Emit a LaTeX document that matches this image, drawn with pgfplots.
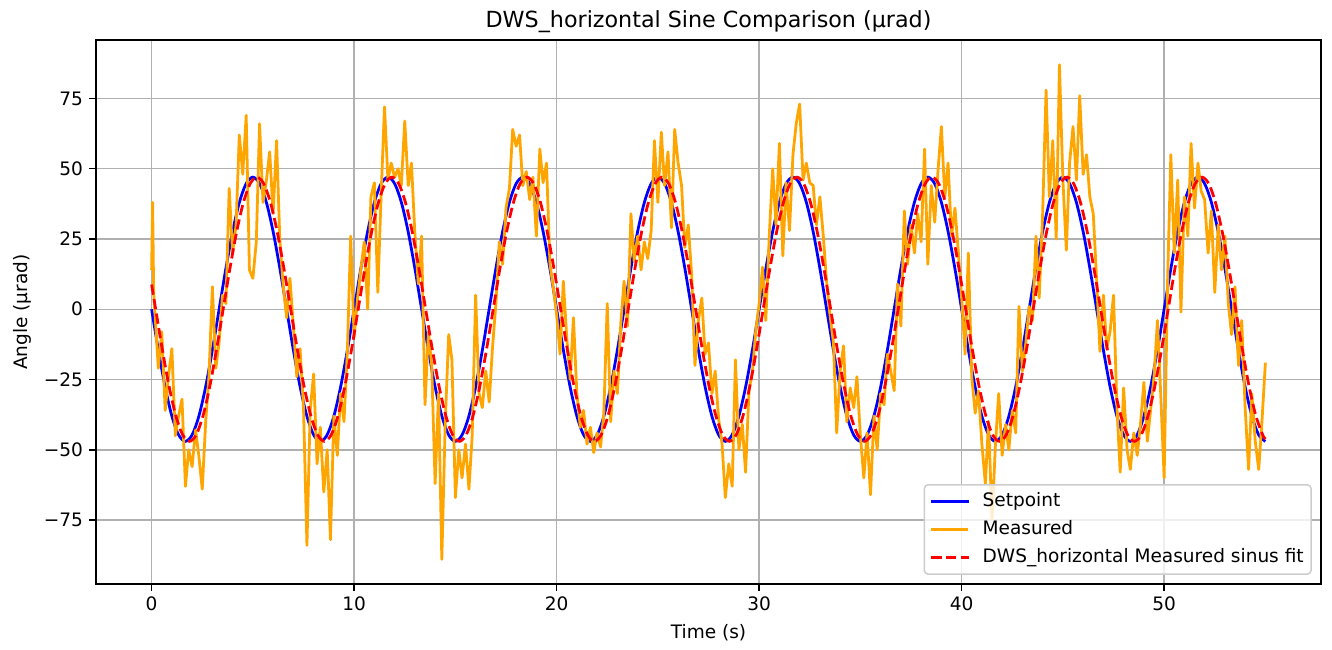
\documentclass[border=0pt]{standalone}
\usepackage{fontspec}
\setmainfont{DejaVu Sans}
\usepackage{pgfplots}
\pgfplotsset{compat=1.18}
\definecolor{gridc}{HTML}{B0B0B0}
\definecolor{morange}{HTML}{FFA500}
\begin{document}
\begin{tikzpicture}
\begin{axis}[
  name=ax,
  scale only axis,
  width=661.5pt, height=293.8pt,
  xmin=-2.75, xmax=57.75, ymin=-97.8, ymax=95.8,
  xtick={0,10,20,30,40,50},
  xticklabels={\mbox{0},\mbox{10},\mbox{20},\mbox{30},\mbox{40},\mbox{50}},
  ytick={-75,-50,-25,0,25,50,75},
  yticklabels={\mbox{−75},\mbox{−50},\mbox{−25},\mbox{0},\mbox{25},\mbox{50},\mbox{75}},
  tick label style={font=\fontsize{10}{12}\selectfont},
  tick align=outside,
  major tick length=3.5pt,
  tick style={black, line width=0.8pt},
  xtick pos=bottom, ytick pos=left,
  axis line style={line width=0.8pt},
  grid=major,
  major grid style={color=gridc, line width=0.8pt},
  title={DWS\_horizontal Sine Comparison (μrad)},
  title style={font=\fontsize{12}{14.4}\selectfont, at={(axis description cs:0.5,1.013)}, anchor=center},
  xlabel={Time (s)},
  xlabel style={font=\fontsize{10}{12}\selectfont, at={(axis description cs:0.5,-0.0901)}, anchor=center},
  ylabel={Angle (μrad)},
  ylabel style={font=\fontsize{10}{12}\selectfont, at={(axis description cs:-0.0604,0.5)}, anchor=center},
  legend cell align=left,
  legend image code/.code={\draw[mark repeat=2,mark phase=2,#1] plot coordinates {(0pt,0pt) (10pt,0pt) (20pt,0pt)};},
  legend style={at={(axis description cs:1,0)}, anchor=south east, xshift=-5pt, yshift=5pt,
    draw=gray!40, line width=0.8pt, rounded corners=2pt, fill=white, fill opacity=0.8, text opacity=1,
    font=\fontsize{10}{12}\selectfont, inner xsep=3pt, inner ysep=3pt,
    nodes={inner sep=1pt, text height=7.6pt, text depth=2.4pt},
    row sep=3.1pt, column sep=6pt},
]
\addplot[blue, line width=1.5pt, smooth, no markers] coordinates {
(0,0) (0.333,-14.52) (0.667,-27.63) (1,-38.02) (1.333,-44.7) (1.667,-47) (2,-44.7) (2.333,-38.02) (2.667,-27.63) (3,-14.52) (3.333,0) (3.667,14.52) (4,27.63) (4.333,38.02) (4.667,44.7) (5,47) (5.333,44.7) (5.667,38.02) (6,27.63) (6.333,14.52)
(6.667,0) (7,-14.52) (7.333,-27.63) (7.667,-38.02) (8,-44.7) (8.333,-47) (8.667,-44.7) (9,-38.02) (9.333,-27.63) (9.667,-14.52) (10,0) (10.333,14.52) (10.667,27.63) (11,38.02) (11.333,44.7) (11.667,47) (12,44.7) (12.333,38.02) (12.667,27.63) (13,14.52)
(13.333,0) (13.667,-14.52) (14,-27.63) (14.333,-38.02) (14.667,-44.7) (15,-47) (15.333,-44.7) (15.667,-38.02) (16,-27.63) (16.333,-14.52) (16.667,0) (17,14.52) (17.333,27.63) (17.667,38.02) (18,44.7) (18.333,47) (18.667,44.7) (19,38.02) (19.333,27.63) (19.667,14.52)
(20,0) (20.333,-14.52) (20.667,-27.63) (21,-38.02) (21.333,-44.7) (21.667,-47) (22,-44.7) (22.333,-38.02) (22.667,-27.63) (23,-14.52) (23.333,0) (23.667,14.52) (24,27.63) (24.333,38.02) (24.667,44.7) (25,47) (25.333,44.7) (25.667,38.02) (26,27.63) (26.333,14.52)
(26.667,0) (27,-14.52) (27.333,-27.63) (27.667,-38.02) (28,-44.7) (28.333,-47) (28.667,-44.7) (29,-38.02) (29.333,-27.63) (29.667,-14.52) (30,0) (30.333,14.52) (30.667,27.63) (31,38.02) (31.333,44.7) (31.667,47) (32,44.7) (32.333,38.02) (32.667,27.63) (33,14.52)
(33.333,0) (33.667,-14.52) (34,-27.63) (34.333,-38.02) (34.667,-44.7) (35,-47) (35.333,-44.7) (35.667,-38.02) (36,-27.63) (36.333,-14.52) (36.667,0) (37,14.52) (37.333,27.63) (37.667,38.02) (38,44.7) (38.333,47) (38.667,44.7) (39,38.02) (39.333,27.63) (39.667,14.52)
(40,0) (40.333,-14.52) (40.667,-27.63) (41,-38.02) (41.333,-44.7) (41.667,-47) (42,-44.7) (42.333,-38.02) (42.667,-27.63) (43,-14.52) (43.333,0) (43.667,14.52) (44,27.63) (44.333,38.02) (44.667,44.7) (45,47) (45.333,44.7) (45.667,38.02) (46,27.63) (46.333,14.52)
(46.667,0) (47,-14.52) (47.333,-27.63) (47.667,-38.02) (48,-44.7) (48.333,-47) (48.667,-44.7) (49,-38.02) (49.333,-27.63) (49.667,-14.52) (50,0) (50.333,14.52) (50.667,27.63) (51,38.02) (51.333,44.7) (51.667,47) (52,44.7) (52.333,38.02) (52.667,27.63) (53,14.52)
(53.333,0) (53.667,-14.52) (54,-27.63) (54.333,-38.02) (54.667,-44.7) (55,-47)
};
\addlegendentry{Setpoint}
\addplot[morange, line width=1.5pt, line join=round, no markers] coordinates {
(0,14) (0.05,38) (0.1,6)
(0.17,-2) (0.33,-21) (0.5,-8) (0.67,-36) (0.83,-24) (1,-14) (1.17,-45) (1.33,-38) (1.5,-32) (1.67,-63) (1.83,-50) (2,-56) (2.17,-43) (2.33,-52) (2.5,-64) (2.67,-40) (2.83,-24) (3,8) (3.17,-21) (3.33,-12) (3.5,5) (3.67,2) (3.83,43) (4,20) (4.17,30) (4.33,62) (4.5,48) (4.67,69) (4.83,14) (5,11) (5.17,24) (5.33,66) (5.5,38) (5.67,46) (5.83,56) (6,34) (6.17,60) (6.33,25) (6.5,8)
(6.67,-3) (6.83,11) (7,-6) (7.17,-24) (7.33,-14) (7.5,-35) (7.67,-84) (7.83,-36) (8,-23) (8.17,-55) (8.33,-42) (8.5,-65) (8.67,-50) (8.83,-82) (9,-38) (9.17,-52) (9.33,-30) (9.5,-40) (9.67,-14) (9.83,26) (10,-10) (10.17,4) (10.33,14) (10.5,24) (10.67,0) (10.83,40) (11,45) (11.17,6) (11.33,40) (11.5,72) (11.67,46) (11.83,52) (12,47) (12.17,50) (12.33,44) (12.5,67) (12.67,44) (12.83,52) (13,27) (13.17,9)
(13.33,26) (13.5,-34) (13.67,-8) (13.83,-20) (14,-62) (14.17,-30) (14.33,-89) (14.5,-40) (14.67,-9) (14.83,-18) (15,-67) (15.17,-50) (15.33,-60) (15.5,-48) (15.67,-64) (15.83,-45) (16,5) (16.17,-30) (16.33,-35) (16.5,-22) (16.67,-33) (16.83,-14) (17,2) (17.17,24) (17.33,16) (17.5,36) (17.67,43) (17.83,64) (18,58) (18.17,62) (18.33,44) (18.5,49) (18.67,39) (18.83,47) (19,26) (19.17,57) (19.33,45) (19.5,52) (19.67,16) (19.83,8)
(20,-2) (20.17,-16) (20.33,10) (20.5,-10) (20.67,-25) (20.83,-3) (21,-30) (21.17,-42) (21.33,-36) (21.5,-48) (21.67,-42) (21.83,-51) (22,-44) (22.17,-49) (22.33,-37) (22.5,2) (22.67,-40) (22.83,-22) (23,-30) (23.17,-5) (23.33,10) (23.5,-6) (23.67,34) (23.83,17) (24,26) (24.17,14) (24.33,24) (24.5,18) (24.67,28) (24.83,60) (25,38) (25.17,63) (25.33,44) (25.5,56) (25.67,29) (25.83,64) (26,52) (26.17,44) (26.33,22) (26.5,30)
(26.67,12) (26.83,-20) (27,-4) (27.17,4) (27.33,-16) (27.5,-12) (27.67,-30) (27.83,-22) (28,-39) (28.17,-48) (28.33,-67) (28.5,-55) (28.67,-63) (28.83,-18) (29,-50) (29.17,-41) (29.33,-58) (29.5,-29) (29.67,-22) (29.83,-8) (30,2) (30.17,15) (30.33,-4) (30.5,26) (30.67,50) (30.83,30) (31,59) (31.17,19) (31.33,45) (31.5,28) (31.67,55) (31.83,66) (32,73) (32.17,46) (32.33,52) (32.5,45) (32.67,44) (32.83,30) (33,40) (33.17,26)
(33.33,10) (33.5,-2) (33.67,-12) (33.83,-44) (34,-22) (34.17,-13) (34.33,-40) (34.5,-28) (34.67,-35) (34.83,-24) (35,-45) (35.17,-60) (35.33,-44) (35.5,-66) (35.67,-38) (35.83,-50) (36,-30) (36.17,-34) (36.33,-16) (36.5,-22) (36.67,-29) (36.83,9) (37,-6) (37.17,35) (37.33,16) (37.5,30) (37.67,20) (37.83,34) (38,24) (38.17,57) (38.33,16) (38.5,44) (38.67,31) (38.83,49) (39,65) (39.17,40) (39.33,52) (39.5,26) (39.67,36) (39.83,21)
(40,4) (40.17,-16) (40.33,20) (40.5,-24) (40.67,-37) (40.83,-29) (41,-48) (41.17,-62) (41.33,-40) (41.5,-75) (41.67,-48) (41.83,-30) (42,-52) (42.17,-41) (42.33,-50) (42.5,-36) (42.67,-44) (42.83,1) (43,-22) (43.17,-12) (43.33,1) (43.5,-4) (43.67,26) (43.83,4) (44,34) (44.17,78) (44.33,40) (44.5,60) (44.67,25) (44.83,87) (45,46) (45.17,21) (45.33,52) (45.5,65) (45.67,46) (45.83,76) (46,48) (46.17,55) (46.33,40) (46.5,34)
(46.67,10) (46.83,-15) (47,5) (47.17,-14) (47.33,-8) (47.5,5) (47.67,-35) (47.83,-58) (48,-28) (48.17,-50) (48.33,-57) (48.5,-44) (48.67,-52) (48.83,-41) (49,-26) (49.17,-47) (49.33,-36) (49.5,-24) (49.67,-4) (49.83,-30) (50,-60) (50.17,10) (50.33,55) (50.5,20) (50.67,46) (50.83,-1) (51,40) (51.17,26) (51.33,59) (51.5,36) (51.67,52) (51.83,42) (52,39) (52.17,20) (52.33,35) (52.5,6) (52.67,30) (52.83,14) (53,26) (53.17,2)
(53.33,-9) (53.5,8) (53.67,-20) (53.83,-4) (54,-35) (54.17,-57) (54.33,-30) (54.5,-47) (54.67,-57) (54.83,-40) (55,-19)
};
\addlegendentry{Measured}
\addplot[red, line width=1.5pt, smooth, dash pattern=on 5.55pt off 2.4pt, no markers] coordinates {
(0,8.8)
(0.2,0) (0.533,-14.52) (0.867,-27.63) (1.2,-38.02) (1.533,-44.7) (1.867,-47) (2.2,-44.7) (2.533,-38.02) (2.867,-27.63) (3.2,-14.52) (3.533,0) (3.867,14.52) (4.2,27.63) (4.533,38.02) (4.867,44.7) (5.2,47) (5.533,44.7) (5.867,38.02) (6.2,27.63) (6.533,14.52)
(6.867,0) (7.2,-14.52) (7.533,-27.63) (7.867,-38.02) (8.2,-44.7) (8.533,-47) (8.867,-44.7) (9.2,-38.02) (9.533,-27.63) (9.867,-14.52) (10.2,0) (10.533,14.52) (10.867,27.63) (11.2,38.02) (11.533,44.7) (11.867,47) (12.2,44.7) (12.533,38.02) (12.867,27.63) (13.2,14.52)
(13.533,0) (13.867,-14.52) (14.2,-27.63) (14.533,-38.02) (14.867,-44.7) (15.2,-47) (15.533,-44.7) (15.867,-38.02) (16.2,-27.63) (16.533,-14.52) (16.867,0) (17.2,14.52) (17.533,27.63) (17.867,38.02) (18.2,44.7) (18.533,47) (18.867,44.7) (19.2,38.02) (19.533,27.63) (19.867,14.52)
(20.2,0) (20.533,-14.52) (20.867,-27.63) (21.2,-38.02) (21.533,-44.7) (21.867,-47) (22.2,-44.7) (22.533,-38.02) (22.867,-27.63) (23.2,-14.52) (23.533,0) (23.867,14.52) (24.2,27.63) (24.533,38.02) (24.867,44.7) (25.2,47) (25.533,44.7) (25.867,38.02) (26.2,27.63) (26.533,14.52)
(26.867,0) (27.2,-14.52) (27.533,-27.63) (27.867,-38.02) (28.2,-44.7) (28.533,-47) (28.867,-44.7) (29.2,-38.02) (29.533,-27.63) (29.867,-14.52) (30.2,0) (30.533,14.52) (30.867,27.63) (31.2,38.02) (31.533,44.7) (31.867,47) (32.2,44.7) (32.533,38.02) (32.867,27.63) (33.2,14.52)
(33.533,0) (33.867,-14.52) (34.2,-27.63) (34.533,-38.02) (34.867,-44.7) (35.2,-47) (35.533,-44.7) (35.867,-38.02) (36.2,-27.63) (36.533,-14.52) (36.867,0) (37.2,14.52) (37.533,27.63) (37.867,38.02) (38.2,44.7) (38.533,47) (38.867,44.7) (39.2,38.02) (39.533,27.63) (39.867,14.52)
(40.2,0) (40.533,-14.52) (40.867,-27.63) (41.2,-38.02) (41.533,-44.7) (41.867,-47) (42.2,-44.7) (42.533,-38.02) (42.867,-27.63) (43.2,-14.52) (43.533,0) (43.867,14.52) (44.2,27.63) (44.533,38.02) (44.867,44.7) (45.2,47) (45.533,44.7) (45.867,38.02) (46.2,27.63) (46.533,14.52)
(46.867,0) (47.2,-14.52) (47.533,-27.63) (47.867,-38.02) (48.2,-44.7) (48.533,-47) (48.867,-44.7) (49.2,-38.02) (49.533,-27.63) (49.867,-14.52) (50.2,0) (50.533,14.52) (50.867,27.63) (51.2,38.02) (51.533,44.7) (51.867,47) (52.2,44.7) (52.533,38.02) (52.867,27.63) (53.2,14.52)
(53.533,0) (53.867,-14.52) (54.2,-27.63) (54.533,-38.02) (54.867,-44.7) (55,-46.2)
};
\addlegendentry{DWS\_horizontal Measured sinus fit}
\end{axis}
\pgfresetboundingbox
\path[use as bounding box] ([shift={(-51.8pt,-35.1pt)}]ax.south west) rectangle ([shift={(5.9pt,21.6pt)}]ax.north east);
\end{tikzpicture}
\end{document}
